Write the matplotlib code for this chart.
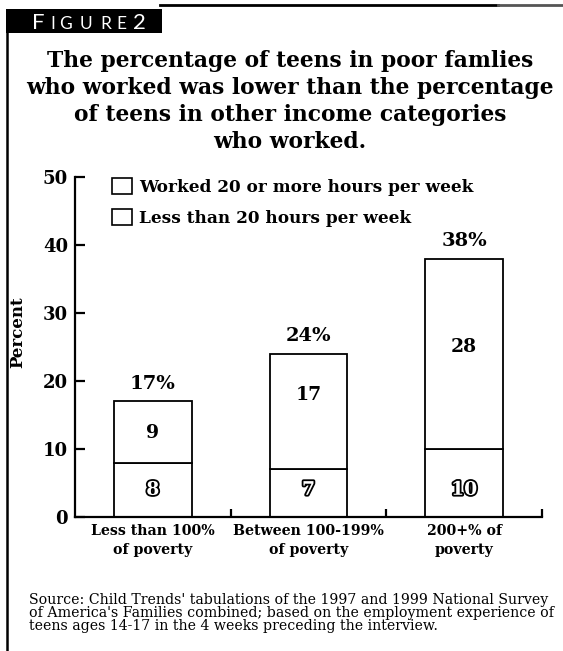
import matplotlib
matplotlib.use("Agg")
import matplotlib.pyplot as plt
import matplotlib.patheffects as pe
from matplotlib.patches import Rectangle
from matplotlib.lines import Line2D

# ---- data ----
categories = ["Less than 100%\nof poverty", "Between 100-199%\nof poverty", "200+% of\npoverty"]
worked_20_plus = [8, 7, 10]        # lower segment
less_than_20 = [9, 17, 28]         # upper segment
totals = [17, 24, 38]
series_names = ["Worked 20 or more hours per week", "Less than 20 hours per week"]
y_ticks = [0, 10, 20, 30, 40, 50]

title = ("The percentage of teens in poor famlies\n"
         "who worked was lower than the percentage\n"
         "of teens in other income categories\n"
         "who worked.")
source = ("Source: Child Trends' tabulations of the 1997 and 1999 National Survey\n"
          "of America's Families combined; based on the employment experience of\n"
          "teens ages 14-17 in the 4 weeks preceding the interview.")

# layout constants (label heights inside the bars, data units)
upper_label_y = [12.4, 17.9, 25.0]
lower_label_y = [4.0, 4.0, 4.0]

W, H = 563, 651
fig = plt.figure(figsize=(W / 100, H / 100), dpi=100)
SERIF = "DejaVu Serif"


def px(x, y):
    return x / W, 1 - y / H


# axes placement
ax_l, ax_r, ax_b, ax_t = 75, 542, 517, 177
ax = fig.add_axes([ax_l / W, 1 - ax_b / H, (ax_r - ax_l) / W, (ax_b - ax_t) / H])

xs = list(range(len(categories)))
ax.bar(xs, worked_20_plus, width=0.5, color="white", edgecolor="black", linewidth=1.3, clip_on=False, zorder=2)
ax.bar(xs, less_than_20, bottom=worked_20_plus, width=0.5, color="white", edgecolor="black",
       linewidth=1.3, clip_on=False, zorder=2)

ax.set_xlim(-0.5, 2.5)
ax.set_ylim(0, 50)
for s in ["top", "right"]:
    ax.spines[s].set_visible(False)
ax.spines["left"].set_linewidth(1.6)
ax.spines["bottom"].set_linewidth(1.6)
ax.spines["left"].set_zorder(3)
ax.spines["bottom"].set_zorder(3)

ax.set_yticks(y_ticks)
ax.set_yticklabels([str(v) for v in y_ticks], fontfamily=SERIF, fontweight="bold", fontsize=13)
ax.tick_params(axis="y", direction="in", length=7, width=1.6, pad=5)

ax.set_xticks([0.5, 1.5, 2.5])
ax.set_xticklabels([])
ax.tick_params(axis="x", which="major", direction="in", length=6, width=1.6)
ax.set_xticks(xs, minor=True)
ax.set_xticklabels(categories, minor=True, fontfamily=SERIF, fontweight="bold", fontsize=10.2,
                   linespacing=1.45)
ax.tick_params(axis="x", which="minor", length=0, pad=5)

ax.set_ylabel("Percent", fontfamily=SERIF, fontweight="bold", fontsize=12)
ax.yaxis.set_label_coords(-0.105, 0.544)

# value labels
for x, t, yu, yl, u, l in zip(xs, totals, upper_label_y, lower_label_y, less_than_20, worked_20_plus):
    ax.annotate(f"{t}%", (x, t), xytext=(0, 6), textcoords="offset points", ha="center", va="bottom",
                fontfamily=SERIF, fontweight="bold", fontsize=14)
    ax.text(x, yu, str(u), ha="center", va="center", fontfamily=SERIF, fontweight="bold", fontsize=13.5)
    ax.text(x, yl, str(l), ha="center", va="center", fontfamily=SERIF, fontweight="bold", fontsize=13.5,
            color="white", path_effects=[pe.withStroke(linewidth=2.6, foreground="black")])

# legend
handles = [Rectangle((0, 0), 1, 1, facecolor="white", edgecolor="black", linewidth=1.2) for _ in series_names]
leg = fig.legend(handles, series_names, loc="upper left", bbox_to_anchor=px(112, 178), frameon=False,
                 prop={"family": SERIF, "weight": "bold", "size": 12.2}, handlelength=1.17, handleheight=1.12,
                 handletextpad=0.45, labelspacing=0.75, borderpad=0, borderaxespad=0)

# title
fig.text(*px(290, 101.5), title, ha="center", va="center", fontfamily=SERIF, fontweight="bold",
         fontsize=15.7, linespacing=1.3)

# source
fig.text(*px(29, 613), source, ha="left", va="center", fontfamily=SERIF, fontsize=10.2, linespacing=0.95)

# frame: top rule, black label box, left rule
fig.add_artist(Line2D([160 / W, 498 / W], [1 - 5 / H, 1 - 5 / H], color="black", linewidth=2))
fig.add_artist(Line2D([498 / W, 1], [1 - 5 / H, 1 - 5 / H], color="#555555", linewidth=2))
fig.add_artist(Rectangle(px(6, 33), 156 / W, 24 / H, facecolor="black", edgecolor="none"))
fig.add_artist(Line2D([6.5 / W, 6.5 / W], [0, 1 - 30 / H], color="black", linewidth=1.8))

letters = [("F", 32, 16), ("I", 50, 12.5), ("G", 59, 12.5), ("U", 80, 12.5), ("R", 100, 12.5),
           ("E", 116, 12.5), ("2", 133, 16)]
for ch, lx, fs in letters:
    fig.text(*px(lx, 29), ch, ha="left", va="baseline", color="white", fontfamily="Lato",
             fontsize=fs)

fig.savefig("out.png", dpi=100)
